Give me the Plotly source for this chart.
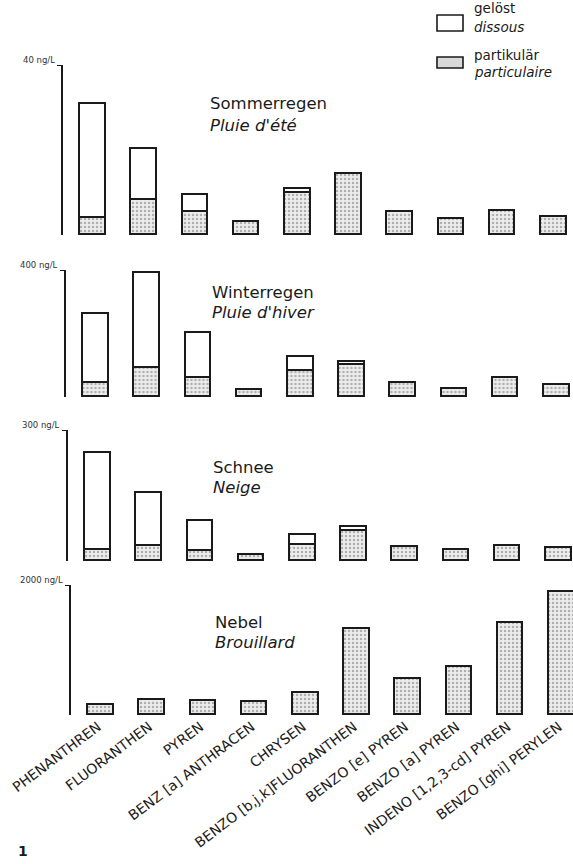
import plotly.graph_objects as go

# PAH concentrations by compound, split into dissolved / particulate fractions
compounds = [
    "PHENANTHREN", "FLUORANTHEN", "PYREN", "BENZ [a] ANTHRACEN", "CHRYSEN",
    "BENZO [b,j,k]FLUORANTHEN", "BENZO [e] PYREN", "BENZO [a] PYREN",
    "INDENO [1,2,3-cd] PYREN", "BENZO [ghi] PERYLEN",
]

# Sommerregen (ng/L)
summer_part = [4.0, 8.2, 5.4, 3.1, 9.9, 14.3, 5.4, 3.8, 5.6, 4.2]
summer_diss = [26.8, 12.0, 4.0, None, 0.9, None, None, None, None, None]
# Winterregen (ng/L)
winter_part = [44, 91, 60, 22, 82, 102, 44, 25, 60, 38]
winter_diss = [217, 299, 142, None, 44, 8, None, None, None, None]
# Schnee (ng/L)
snow_part = [25, 34, 23, 14, 37, 69, 32, 25, 34, 30]
snow_diss = [222, 122, 69, None, 23, 9, None, None, None, None]
# Nebel (ng/L)
fog_part = [154, 231, 215, 200, 338, 1323, 554, 738, 1415, 1892]
fog_diss = [None] * 10

panel_titles = [("Sommerregen", "Pluie d'été"), ("Winterregen", "Pluie d'hiver"),
                ("Schnee", "Neige"), ("Nebel", "Brouillard")]
axis_max = [40, 400, 300, 2000]
axis_labels = ["40 ng/L", "400 ng/L", "300 ng/L", "2000 ng/L"]
legend_labels = [("gelöst", "dissous"), ("partikulär", "particulaire")]

panels = [(summer_part, summer_diss), (winter_part, winter_diss),
          (snow_part, snow_diss), (fog_part, fog_diss)]

W, H = 573, 864
FONT = "DejaVu Sans"
INK = "#1a1a1a"

# pixel layout of each panel: (baseline y, top y, horizontal offset)
geom = [(235, 65, 0), (397, 270, 2.5), (561, 430, 5), (715, 585, 8)]
title_y = [(103, 125), (292, 312), (467, 487), (622, 642)]
STEP = 51.2      # px between bar centres
FIRST = 93       # centre of first bar (px)
AXIS_X = 63      # y-axis line (px)

def py(v):
    return 1 - v / H

stipple = dict(shape=".", size=4, solidity=0.3, fgcolor="#707070", bgcolor="#ededed")

fig = go.Figure()
annotations = []
layout = {}

for k, ((part, diss), (base, top, off)) in enumerate(zip(panels, geom)):
    n = "" if k == 0 else str(k + 1)
    xa, ya = "x" + n, "y" + n
    left_px = AXIS_X + off
    first = FIRST + off
    layout["xaxis" + n] = dict(
        domain=[left_px / W, 1.0],
        range=[(left_px - first) / STEP, (W - first) / STEP],
        type="category", showline=False, showgrid=False, zeroline=False,
        ticks="", showticklabels=(k == 3), tickangle=-37,
        tickfont=dict(family=FONT, size=14, color=INK),
        ticklabelshift=-3,
        anchor=ya, automargin=False,
    )
    layout["yaxis" + n] = dict(
        domain=[py(base), py(top)], range=[0, axis_max[k]],
        showline=True, linecolor=INK, linewidth=1.6, showgrid=False,
        zeroline=False, tickvals=[axis_max[k]], ticks="outside", ticklen=4,
        tickcolor=INK, tickwidth=1.2, showticklabels=False,
        anchor=xa, automargin=False,
    )
    fig.add_trace(go.Bar(
        x=compounds, y=part, xaxis=xa, yaxis=ya, width=0.5,
        marker=dict(color="#e6e6e6", line=dict(color=INK, width=1.6),
                    pattern=stipple),
        showlegend=False, hoverinfo="skip",
    ))
    fig.add_trace(go.Bar(
        x=compounds, y=diss, xaxis=xa, yaxis=ya, width=0.5,
        marker=dict(color="white", line=dict(color=INK, width=1.6)),
        showlegend=False, hoverinfo="skip",
    ))
    # axis value label at top of the y-axis
    annotations.append(dict(
        x=left_px / W, y=axis_max[k], xref="paper", yref=ya,
        text=axis_labels[k], showarrow=False, xanchor="right", yanchor="middle",
        xshift=-6, yshift=5, font=dict(family=FONT, size=8.5, color="#333"),
    ))
    de, fr = panel_titles[k]
    annotations.append(dict(
        x=(208 + off * 0.6) / W, y=py(title_y[k][0]), xref="paper", yref="paper",
        text=de, showarrow=False, xanchor="left", yanchor="middle",
        font=dict(family=FONT, size=16.5, color=INK),
    ))
    annotations.append(dict(
        x=(208 + off * 0.6) / W, y=py(title_y[k][1]), xref="paper", yref="paper",
        text="<i>" + fr + "</i>", showarrow=False, xanchor="left", yanchor="middle",
        font=dict(family=FONT, size=16.5, color=INK),
    ))

# legend: outlined swatches with bilingual labels
shapes = [
    dict(type="rect", xref="paper", yref="paper", x0=437 / W, x1=463 / W,
         y0=py(31), y1=py(15), fillcolor="white", line=dict(color=INK, width=1.6)),
    dict(type="rect", xref="paper", yref="paper", x0=437 / W, x1=463 / W,
         y0=py(68), y1=py(57), fillcolor="#d9d9d9", line=dict(color=INK, width=1.6)),
]
for (de, fr), (y1, y2) in zip(legend_labels, [(8, 27), (55, 72)]):
    annotations.append(dict(x=472 / W, y=py(y1), xref="paper", yref="paper",
                            text=de, showarrow=False, xanchor="left", yanchor="middle",
                            font=dict(family=FONT, size=13.5, color=INK)))
    annotations.append(dict(x=472 / W, y=py(y2), xref="paper", yref="paper",
                            text="<i>" + fr + "</i>", showarrow=False, xanchor="left",
                            yanchor="middle", font=dict(family=FONT, size=13.5, color=INK)))

# figure number
annotations.append(dict(x=16 / W, y=py(851), xref="paper", yref="paper", text="<b>1</b>",
                        showarrow=False, xanchor="left", yanchor="middle",
                        font=dict(family=FONT, size=14, color=INK)))

fig.update_layout(
    width=W, height=H, margin=dict(l=0, r=0, t=0, b=0),
    paper_bgcolor="white", plot_bgcolor="rgba(0,0,0,0)",
    barmode="stack", bargap=0, showlegend=False,
    annotations=annotations, shapes=shapes, **layout,
)

fig.write_html("out.html")
